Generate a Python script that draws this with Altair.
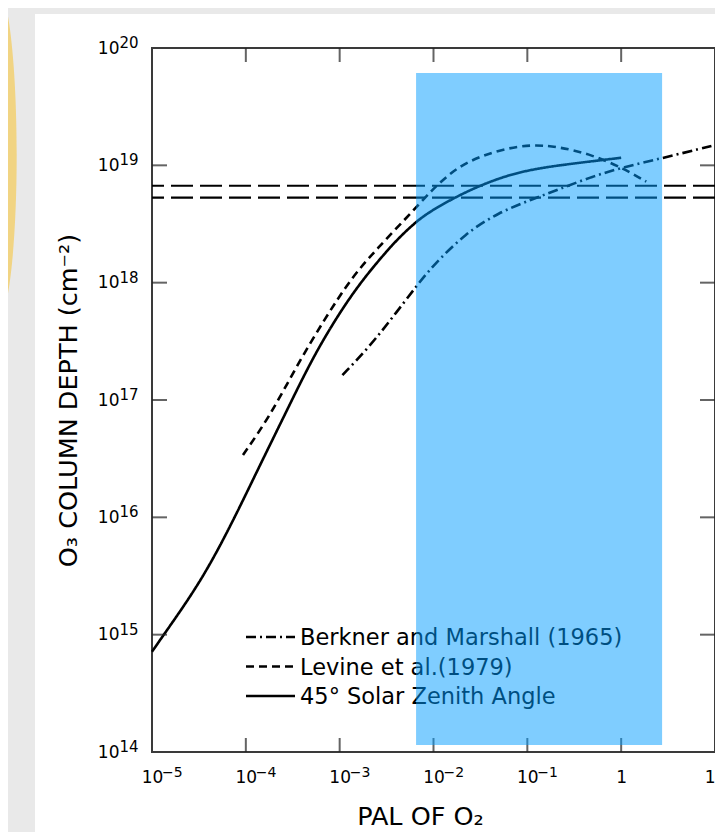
import math
import altair as alt
import pandas as pd

# ---------------- data ----------------
series_names = ["Berkner and Marshall (1965)", "Levine et al.(1979)", "45° Solar Zenith Angle"]

berkner_x = [1.07e-3, 2.07e-3, 3.62e-3, 6.52e-3, 9.64e-3, 2.20e-2, 4.95e-2, 1.11e-1, 2.15e-1, 4.82e-1, 1.10, 2.73, 10.0]
berkner_y = [1.63e17, 2.84e17, 5.00e17, 9.25e17, 1.37e18, 2.65e18, 3.96e18, 5.12e18, 6.22e18, 8.00e18, 9.73e18, 1.15e19, 1.49e19]

levine_x = [9.33e-5, 1.79e-4, 3.44e-4, 7.16e-4, 1.36e-3, 2.43e-3, 6.47e-3, 9.64e-3, 1.46e-2, 2.20e-2, 4.95e-2, 1.11e-1, 2.15e-1, 4.82e-1, 1.11, 1.85]
levine_y = [3.40e16, 7.21e16, 1.92e17, 5.13e17, 1.12e18, 1.90e18, 4.33e18, 6.17e18, 8.36e18, 1.06e19, 1.36e19, 1.51e19, 1.44e19, 1.24e19, 9.23e18, 7.26e18]

solar_x = [1.0e-5, 1.37e-5, 3.24e-5, 6.73e-5, 1.40e-4, 2.69e-4, 5.13e-4, 9.91e-4, 1.74e-3, 3.10e-3, 4.32e-3, 6.52e-3, 9.64e-3, 2.20e-2, 4.95e-2, 1.11e-1, 3.51e-1, 1.0]
solar_y = [7.16e14, 1.03e15, 2.75e15, 8.11e15, 2.74e16, 7.91e16, 2.28e17, 5.52e17, 1.05e18, 1.82e18, 2.43e18, 3.31e18, 4.16e18, 5.96e18, 7.80e18, 9.31e18, 1.05e19, 1.16e19]

present_levels = [6.7e18, 5.3e18]

highlight_x = [6.52e-3, 2.73]
highlight_y = [1.147e14, 6.13e19]

x_tick_values = [1e-5, 1e-4, 1e-3, 1e-2, 1e-1, 1, 10]
x_tick_bases = ["10", "10", "10", "10", "10", "1", "10"]
x_tick_exponents = ["−5", "−4", "−3", "−2", "−1", "", ""]
y_tick_values = [1e14, 1e15, 1e16, 1e17, 1e18, 1e19, 1e20]
y_tick_bases = ["10", "10", "10", "10", "10", "10", "10"]
y_tick_exponents = ["14", "15", "16", "17", "18", "19", "20"]
inner_x_ticks = [1e-4, 1e-3, 1e-2, 1e-1, 1]
inner_y_ticks = [1e15, 1e16, 1e17, 1e18, 1e19]

# ---------------- tables ----------------
curves = pd.concat([
    pd.DataFrame({"x": berkner_x, "y": berkner_y, "series": series_names[0]}),
    pd.DataFrame({"x": levine_x, "y": levine_y, "series": series_names[1]}),
    pd.DataFrame({"x": solar_x, "y": solar_y, "series": series_names[2]}),
], ignore_index=True)

W, H = 563, 704
FONT = "DejaVu Sans"

xs = alt.Scale(type="log", domain=[x_tick_values[0], x_tick_values[-1]], nice=False)
ys = alt.Scale(type="log", domain=[y_tick_values[0], y_tick_values[-1]], nice=False)
dash_scale = alt.Scale(domain=series_names, range=[[10, 4, 2, 4], [8, 5], [1, 0]])

x_off = -round(math.log10(x_tick_values[0]))
y_off = -round(math.log10(y_tick_values[0]))
x_label_expr = "[" + ",".join("'%s'" % s for s in x_tick_bases) + "][round(log(datum.value)/LN10)+%d]" % x_off
y_label_expr = "[" + ",".join("'%s'" % s for s in y_tick_bases) + "][round(log(datum.value)/LN10)+%d]" % y_off

Y_LABEL_PAD = 33
x_axis = alt.Axis(values=x_tick_values, labelExpr=x_label_expr, ticks=False, tickSize=0, domain=False,
                  grid=False, labelFlush=False, labelOverlap=False, labelPadding=17, labelFontSize=17,
                  labelFont=FONT, labelColor="black",
                  titleFont=FONT, titleFontSize=25.5, titleFontWeight="normal", titleColor="black",
                  titleX=268, titleY=64, titleAlign="center", titleBaseline="middle")
y_axis = alt.Axis(values=y_tick_values, labelExpr=y_label_expr, ticks=False, tickSize=0, domain=False,
                  grid=False, labelFlush=False, labelOverlap=False, labelPadding=Y_LABEL_PAD, labelFontSize=17,
                  labelFont=FONT, labelColor="black",
                  titleFont=FONT, titleFontSize=25.5, titleFontWeight="normal", titleColor="black",
                  titleX=-84, titleY=H / 2, titleAlign="center", titleBaseline="middle")

one = pd.DataFrame({"k": [0]})

# slide decoration: grey strips and yellow ellipse outside the plot
strip_left = alt.Chart(one).mark_rect(color="#e9e9e9").encode(
    x=alt.value(-150), x2=alt.value(-117), y=alt.value(-45), y2=alt.value(800))
strip_top = alt.Chart(one).mark_rect(color="#e9e9e9").encode(
    x=alt.value(-150), x2=alt.value(580), y=alt.value(-45), y2=alt.value(-34))
ellipse_path = "M -0.1157 0 A 0.1157 1 0 1 0 0.1157 0 A 0.1157 1 0 1 0 -0.1157 0 Z"
ellipse = alt.Chart(one).mark_point(shape=ellipse_path, filled=True, color="#f1d483",
                                    opacity=1, size=108900, strokeWidth=0).encode(
    x=alt.value(-154.4), y=alt.value(107))

lines = alt.Chart(curves).mark_line(color="black", strokeWidth=2.6, interpolate="basis",
                                    strokeCap="butt").encode(
    x=alt.X("x:Q", scale=xs, axis=x_axis, title="PAL OF O₂"),
    y=alt.Y("y:Q", scale=ys, axis=y_axis, title="O₃ COLUMN DEPTH (cm⁻²)"),
    strokeDash=alt.StrokeDash("series:N", scale=dash_scale, legend=None),
)

# exponents of the tick labels (superscripts)
x_exp = alt.Chart(pd.DataFrame({"v": x_tick_values, "t": x_tick_exponents})).mark_text(
    align="left", baseline="middle", fontSize=14, font=FONT, color="black", dx=10).encode(
    x=alt.X("v:Q", scale=xs), y=alt.value(H + 21), text="t:N")
y_exp = alt.Chart(pd.DataFrame({"v": y_tick_values, "t": y_tick_exponents})).mark_text(
    align="left", baseline="middle", fontSize=15, font=FONT, color="black", dy=-5).encode(
    y=alt.Y("v:Q", scale=ys), x=alt.value(-Y_LABEL_PAD + 0.5), text="t:N")

hlines = alt.Chart(pd.DataFrame({"y": present_levels})).mark_rule(
    color="black", strokeWidth=2.2, strokeDash=[22, 7]).encode(
    y=alt.Y("y:Q", scale=ys))

tick_style = dict(thickness=2, color="#222")
top_ticks = alt.Chart(pd.DataFrame({"x": inner_x_ticks})).mark_tick(orient="vertical", size=14, **tick_style).encode(
    x=alt.X("x:Q", scale=xs), y=alt.value(7))
bottom_ticks = alt.Chart(pd.DataFrame({"x": inner_x_ticks})).mark_tick(orient="vertical", size=14, **tick_style).encode(
    x=alt.X("x:Q", scale=xs), y=alt.value(H - 7))
left_ticks = alt.Chart(pd.DataFrame({"y": inner_y_ticks})).mark_tick(orient="horizontal", size=15, **tick_style).encode(
    y=alt.Y("y:Q", scale=ys), x=alt.value(7.5))
right_ticks = alt.Chart(pd.DataFrame({"y": inner_y_ticks})).mark_tick(orient="horizontal", size=15, **tick_style).encode(
    y=alt.Y("y:Q", scale=ys), x=alt.value(W - 7.5))

# in-plot legend
LEG_X0, LEG_X1, LEG_TX, LEG_Y0, LEG_DY = 94, 143, 148, 589, 29.5
legend_layers = []
for i, name in enumerate(series_names):
    row = pd.DataFrame({"series": [name]})
    legend_layers.append(alt.Chart(row).mark_rule(color="black", strokeWidth=2.4, strokeCap="butt").encode(
        x=alt.value(LEG_X0), x2=alt.value(LEG_X1), y=alt.value(LEG_Y0 + i * LEG_DY),
        strokeDash=alt.StrokeDash("series:N", scale=dash_scale, legend=None)))
    legend_layers.append(alt.Chart(row).mark_text(align="left", baseline="middle", fontSize=22.5,
                                                 font=FONT, color="black").encode(
        x=alt.value(LEG_TX), y=alt.value(LEG_Y0 + i * LEG_DY + 1), text="series:N"))

highlight = alt.Chart(pd.DataFrame({"x0": [highlight_x[0]], "x1": [highlight_x[1]],
                                    "y0": [highlight_y[0]], "y1": [highlight_y[1]]})).mark_rect(
    color="#009bff", opacity=0.5).encode(
    x=alt.X("x0:Q", scale=xs), x2="x1:Q",
    y=alt.Y("y0:Q", scale=ys), y2="y1:Q")

chart = alt.layer(
    lines, strip_left, strip_top, ellipse, x_exp, y_exp, hlines,
    top_ticks, bottom_ticks, left_ticks, right_ticks,
    *legend_layers, highlight,
).properties(
    width=W, height=H,
    autosize=alt.AutoSizeParams(type="none"),
    padding={"left": 144, "top": 40, "right": 0, "bottom": 80},
    background="white",
).configure_view(stroke="#3a3a3a", strokeWidth=2, fill="white")

chart.save("out.html", embed_options={"renderer": "svg", "actions": False})
